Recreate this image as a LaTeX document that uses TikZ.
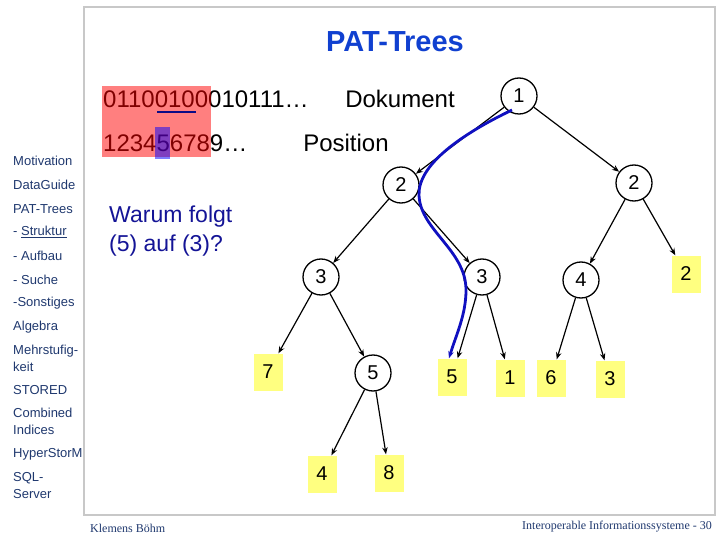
\documentclass[tikz,border=0pt]{standalone}
\usepackage{fontspec}
\setmainfont{Liberation Sans}
\newfontfamily\footfont{Liberation Serif}
\usetikzlibrary{arrows.meta, positioning}

\definecolor{navy}{RGB}{31,56,110}
\definecolor{titleblue}{RGB}{16,64,208}
\definecolor{askblue}{RGB}{20,20,150}
\definecolor{pathblue}{RGB}{16,16,192}
\definecolor{leafyellow}{RGB}{255,255,128}
\definecolor{framegray}{RGB}{200,200,200}

\begin{document}
\begin{tikzpicture}[
    x=1pt, y=-1pt,
    >={Stealth[length=7pt,width=5.5pt]},
    % Inner node of the trie (skip count)
    knot/.style={draw, circle, line width=1.3pt, minimum size=36pt, inner sep=0pt,
        font=\fontsize{20}{24}\selectfont},
    % Leaf with the position in the document
    leaf/.style={fill=leafyellow, minimum width=29pt, minimum height=37pt, inner sep=0pt,
        font=\fontsize{20}{24}\selectfont},
    edge/.style={->, line width=1.2pt},
    menu/.style={anchor=west, inner sep=0pt, text=navy, align=left,
        font=\fontsize{13}{17}\selectfont},
    big/.style={inner sep=0pt, font=\fontsize{24}{28}\selectfont}
]

\useasboundingbox (0,0) rectangle (720,540);

% --- Slide frame ---
\draw[framegray, line width=2.5pt] (84,7) rectangle (715,515);

% --- Title ---
\node[text=titleblue, font=\fontsize{29}{34}\selectfont\bfseries] (title) at (395,42) {PAT-Trees};

% --- Navigation on the left ---
\node[menu] (m1) at (13,161) {Motivation};
\node[menu] (m2) at (13,185) {DataGuide};
\node[menu] (m3) at (13,209) {PAT-Trees};
\node[menu] (m4) at (13,232) {- \underline{Struktur}};
\node[menu] (m5) at (13,256) {- Aufbau};
\node[menu] (m6) at (13,280) {- Suche};
\node[menu] (m7) at (13,303) {-Sonstiges};
\node[menu] (m8) at (13,327) {Algebra};
\node[menu] (m9) at (13,358) {Mehrstufig-\\keit};
\node[menu] (m10) at (13,390) {STORED};
\node[menu] (m11) at (13,421) {Combined\\Indices};
\node[menu] (m12) at (13,454) {HyperStorM};
\node[menu] (m13) at (13,486) {SQL-\\Server};

% --- Document and positions ---
\node[big, anchor=west] (bits) at (103,99) {01100100010111…};
\node[big] (dok) at (400,99) {Dokument};
\node[big, anchor=west] (nums) at (103,143) {123456789…};
\node[big] (pos) at (346,143) {Position};

% Highlights over the string
\fill[red, opacity=0.5] (102,86) rectangle (211,157);
\fill[blue, opacity=0.5] (155,127) rectangle (170,159);
\draw[pathblue!70!black, line width=2.5pt] (157,112) -- (196,112);

% --- Question ---
\node[anchor=west, inner sep=0pt, align=left, text=askblue,
    font=\fontsize{23}{29}\selectfont] (ask) at (109,231) {Warum folgt\\(5) auf (3)?};

% --- Tree ---
\node[knot] (n1) at (519,96) {1};
\node[knot] (n2a) at (401,185) {2};
\node[knot] (n2b) at (634,183) {2};
\node[knot] (n3a) at (321,277) {3};
\node[knot] (n3b) at (482,277) {3};
\node[knot] (n4) at (581,280) {4};
\node[knot] (n5) at (373,373) {5};

\node[leaf] (l2) at (686,274) {2};
\node[leaf] (l7) at (268,372) {7};
\node[leaf] (l5) at (452,377) {5};
\node[leaf] (l1) at (510,378) {1};
\node[leaf] (l6) at (551,378) {6};
\node[leaf] (l3) at (610,379) {3};
\node[leaf] (l4) at (322,474) {4};
\node[leaf] (l8) at (389,473) {8};

\draw[edge] (n1) -- (n2a);
\draw[edge] (n1) -- (n2b);
\draw[edge] (n2a) -- (n3a);
\draw[edge] (n2a) -- (n3b);
\draw[edge] (n2b) -- (n4);
\draw[edge] (n2b) -- (l2);
\draw[edge] (n3a) -- (l7);
\draw[edge] (n3a) -- (n5);
\draw[edge] (n3b) -- (l5);
\draw[edge] (n3b) -- (l1);
\draw[edge] (n4) -- (l6);
\draw[edge] (n4) -- (l3);
\draw[edge] (n5) -- (l4);
\draw[edge] (n5) -- (l8);

% --- Search path (blue) ---
\coordinate (pstart) at (512,110);
\draw[->, pathblue, line width=2.8pt]
    (pstart) .. controls (460,135) and (418,165) .. (419,195)
    .. controls (420,230) and (466,250) .. (466,290)
    .. controls (466,315) and (456,335) .. ([xshift=-3pt]l5.north);

% --- Footer ---
\node[anchor=west, inner sep=0pt, text=navy, font=\footfont\fontsize{12}{14}\selectfont] (author) at (90,528) {Klemens Böhm};
\node[anchor=east, inner sep=0pt, text=navy, font=\footfont\fontsize{12}{14}\selectfont] (slide) at (712,527) {Interoperable Informationssysteme - 30};

\end{tikzpicture}
\end{document}
